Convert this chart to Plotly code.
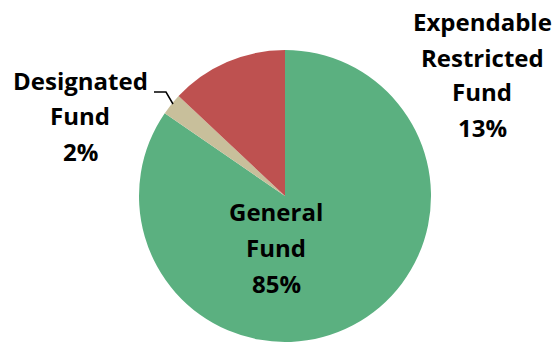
import plotly.graph_objects as go

W, H = 554, 343

# Data
categories = ["General Fund", "Designated Fund", "Expendable Restricted Fund"]
values = [84.6, 2.4, 13.0]
colors = ["#5BB080", "#C8BF9B", "#BE5150"]
pct_labels = ["85%", "2%", "13%"]
label_lines = [["General", "Fund"], ["Designated", "Fund"], ["Expendable", "Restricted", "Fund"]]

# label placement (pixel positions of each label block: x center, y of first line, line spacing)
label_pos = [(276, 211, 36), (80, 81, 35), (482, 22, 35)]

def px(x):
    return x / W

def py(y):
    return 1 - y / H

fig = go.Figure(go.Pie(
    labels=categories,
    values=values,
    marker=dict(colors=colors, line=dict(width=0)),
    sort=False,
    direction="clockwise",
    rotation=0,
    textinfo="none",
    hoverinfo="label+percent",
    showlegend=False,
    domain=dict(x=[px(139), px(431)], y=[py(342), py(50)]),
))

annotations = []
for lines, pct, (cx, y0, dy) in zip(label_lines, pct_labels, label_pos):
    for i, t in enumerate(lines + [pct]):
        annotations.append(dict(
            x=px(cx), y=py(y0 + i * dy), xref="paper", yref="paper",
            text="<b>" + t + "</b>", showarrow=False,
            xanchor="center", yanchor="middle",
            font=dict(family="Open Sans", size=24, color="#000000"),
        ))

fig.update_layout(
    width=W, height=H,
    margin=dict(l=0, r=0, t=0, b=0),
    paper_bgcolor="white",
    plot_bgcolor="white",
    annotations=annotations,
    shapes=[dict(
        type="path", xref="paper", yref="paper",
        path=f"M {px(154)},{py(92)} L {px(166)},{py(92)} L {px(173)},{py(104)}",
        line=dict(color="black", width=1.5),
    )],
)

fig.write_html("out.html")
